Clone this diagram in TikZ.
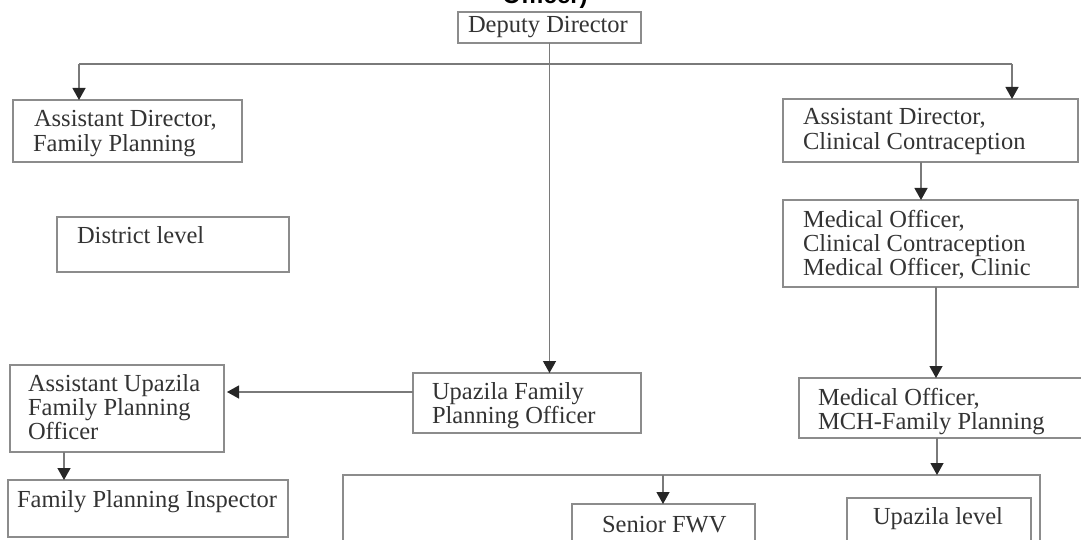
\documentclass[tikz,border=0pt]{standalone}
\usepackage{fontspec}
\setmainfont{Liberation Serif}
\newfontfamily\titlefont{Liberation Sans}
\usetikzlibrary{arrows.meta}
\definecolor{txtc}{HTML}{333333}
\definecolor{boxc}{HTML}{8C8C8C}
\definecolor{linec}{HTML}{7A7A7A}
\begin{document}
\begin{tikzpicture}[x=1pt,y=-1pt,
  box/.style={draw=boxc, line width=1.3pt, inner sep=0pt, outer sep=0pt, anchor=north west, fill=none},
  txt/.style={inner sep=0pt, outer sep=0pt, anchor=base west, text=txtc, font=\fontsize{24.5}{25}\selectfont},
  conn/.style={draw=linec, line width=1.3pt},
  arr/.style={conn, -{Triangle[width=13pt,length=12pt,color=black!85]}}
]
\useasboundingbox (0,0) rectangle (1081,540);
\clip (0,0) rectangle (1081,540);

% title (cut at top)
\node[inner sep=0pt, anchor=base, font=\titlefont\bfseries\fontsize{24}{24}\selectfont] (title) at (545,4) {Officer)};

% boxes
\node[box, minimum width=183pt, minimum height=31pt] (dd) at (458,12) {};
\node[box, minimum width=229pt, minimum height=62pt] (adfp) at (13,100) {};
\node[box, minimum width=232pt, minimum height=55pt] (dist) at (57,217) {};
\node[box, minimum width=295pt, minimum height=63pt] (adcc) at (783,99) {};
\node[box, minimum width=295pt, minimum height=87pt] (mocc) at (783,200) {};
\node[box, minimum width=214pt, minimum height=87pt] (aufpo) at (10,365) {};
\node[box, minimum width=280pt, minimum height=57pt] (fpi) at (8,480) {};
\node[box, minimum width=228pt, minimum height=60pt] (ufpo) at (413,373) {};
\node[box, minimum width=300pt, minimum height=60pt] (mch) at (799,378) {};
\node[box, minimum width=697pt, minimum height=90pt] (big) at (343,475) {};
\node[box, minimum width=183pt, minimum height=60pt] (sfwv) at (572,504) {};
\node[box, minimum width=184pt, minimum height=66pt] (upl) at (847,498) {};

% texts
\node[txt] (t-dd) at (468,33) {Deputy Director};
\node[txt] (t-adfp1) at (34,127) {Assistant Director,};
\node[txt] (t-adfp2) at (33,152) {Family Planning};
\node[txt] (t-dist) at (77,243) {District level};
\node[txt] (t-adcc1) at (803,125) {Assistant Director,};
\node[txt] (t-adcc2) at (803,150) {Clinical Contraception};
\node[txt] (t-mocc1) at (803,227) {Medical Officer,};
\node[txt] (t-mocc2) at (803,251) {Clinical Contraception};
\node[txt] (t-mocc3) at (803,275) {Medical Officer, Clinic};
\node[txt] (t-aufpo1) at (28,391) {Assistant Upazila};
\node[txt] (t-aufpo2) at (28,415) {Family Planning};
\node[txt] (t-aufpo3) at (28,439) {Officer};
\node[txt] (t-fpi) at (17,507) {Family Planning Inspector};
\node[txt] (t-ufpo1) at (432,399) {Upazila Family};
\node[txt] (t-ufpo2) at (432,423) {Planning Officer};
\node[txt] (t-mch1) at (818,405) {Medical Officer,};
\node[txt] (t-mch2) at (818,429) {MCH-Family Planning};
\node[txt] (t-sfwv) at (602,532) {Senior FWV};
\node[txt] (t-upl) at (873,524) {Upazila level};

% connectors
\coordinate (tl) at (79,64);
\coordinate (tr) at (1012,64);
\draw[conn] (tl) -- (tr);
\draw[arr] (tl) -- (tl |- adfp.north);
\draw[arr] (tr) -- (tr |- adcc.north);
\draw[arr] (dd.south) -- (dd.south |- ufpo.north);
\draw[arr] ([xshift=138pt]adcc.south west) -- ([xshift=138pt]adcc.south west |- mocc.north);
\draw[arr] ([xshift=153pt]mocc.south west) -- ([xshift=153pt]mocc.south west |- mch.north);
\draw[arr] ([xshift=138pt]mch.south west) -- ([xshift=138pt]mch.south west |- big.north);
\draw[arr] ([xshift=91pt]sfwv.north west |- big.north) -- ([xshift=91pt]sfwv.north west);
\draw[arr] ([yshift=-19pt]ufpo.north west) -- ([yshift=-19pt,xshift=3pt]ufpo.north west -| aufpo.east);
\draw[arr] ([xshift=54pt]aufpo.south west) -- ([xshift=54pt]aufpo.south west |- fpi.north);
\end{tikzpicture}
\end{document}
